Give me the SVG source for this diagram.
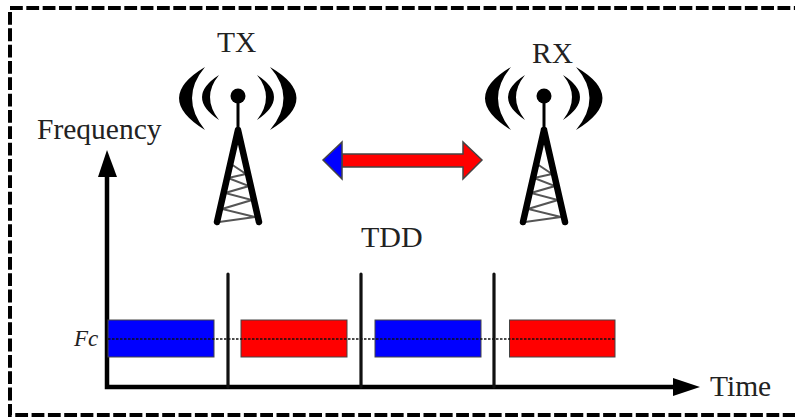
<svg xmlns="http://www.w3.org/2000/svg" width="795" height="417" viewBox="0 0 795 417">
<style>
text{font-family:"Liberation Serif","Times New Roman",serif;font-size:29.5px;fill:#222}
.ax{stroke:#000;fill:none;stroke-width:4.5}
.div{stroke:#111;fill:none;stroke-width:3.2;stroke-linecap:round}
.slot{stroke:#444;stroke-width:1}
.b{fill:#00f}.r{fill:#f00}
.leg{stroke:#000;stroke-width:6.5;stroke-linecap:round;fill:none}
.lat{stroke:#555;stroke-width:2;fill:none}
.edge{fill:none;stroke:#000;stroke-width:4;stroke-dasharray:12.8 3.53}
</style>
<defs>
<g id="tower">
<path d="M205 67Q153 98 205 130Q179 98 205 67Z"/>
<path d="M219 75Q185 97 219 120Q201 97 219 75Z"/>
<path d="M270 67Q323 98 270 130Q297 98 270 67Z"/>
<path d="M257 75Q291 97 257 120Q275 97 257 75Z"/>
<circle cx="238" cy="96" r="7.5"/>
<path d="M238 96V130" stroke="#000" stroke-width="3" fill="none"/>
<path class="lat" d="M219 222L255 217L222 209L252 200L225 193L249 186L228 178L246 174L231 164"/>
<path class="leg" d="M238 130L217 222M238 130L259 222"/>
</g>
</defs>
<rect width="795" height="417" fill="#fff"/>
<g id="frame">
<path class="edge" d="M10 8H795"/>
<path class="edge" d="M10 12V415H795"/>
</g>
<g id="connectors">
<path class="ax" d="M107 176V387H675"/>
<path d="M107 150L98 177H117Z"/>
<path d="M700 387L673 378V396Z"/>
<path class="div" d="M228 274V387M361 274V387M494 274V387"/>
<path d="M342 154H463V142L482 160L463 179V167H342Z" fill="#f00" stroke="#444" stroke-width="1.5"/>
<path d="M342 142L323 160L342 179Z" fill="#00f" stroke="#444" stroke-width="1.5"/>
</g>
<g id="tx"><use href="#tower"/><text x="217" y="52">TX</text></g>
<g id="rx"><use href="#tower" x="306"/><text x="532" y="63">RX</text></g>
<g id="slot1"><rect class="slot b" x="108" y="320" width="106" height="37"/></g>
<g id="slot2"><rect class="slot r" x="241" y="320" width="106" height="37"/></g>
<g id="slot3"><rect class="slot b" x="375" y="320" width="106" height="37"/></g>
<g id="slot4"><rect class="slot r" x="509.5" y="320" width="105.5" height="37"/></g>
<path id="fc-line" d="M108 339H615" stroke="#111" stroke-width="1.3" stroke-dasharray="2.5 1.5" fill="none"/>
<text x="37" y="139">Frequency</text>
<text x="361" y="247" style="font-size:30px">TDD</text>
<text x="710" y="396">Time</text>
<text x="74" y="346" style="font-size:23px;font-style:italic">Fc</text>
</svg>
